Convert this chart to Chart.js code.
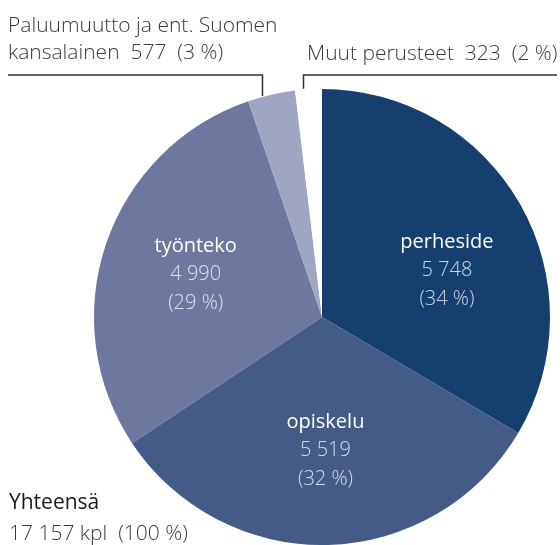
<!DOCTYPE html>
<html>
<head>
<meta charset="utf-8">
<script src="https://cdn.jsdelivr.net/npm/chart.js@4.4.0/dist/chart.umd.min.js"></script>
<style>
html, body { margin: 0; padding: 0; background: #fff; }
#wrap { position: relative; width: 560px; height: 545px; }
</style>
</head>
<body>
<div id="wrap"><canvas id="pie"></canvas></div>
<script>
// Oleskeluluvat perusteittain
const categories = ['perheside', 'opiskelu', 'työnteko', 'Paluumuutto ja ent. Suomen kansalainen', 'Muut perusteet'];
const values = [5748, 5519, 4990, 577, 323];
const percents = [34, 32, 29, 3, 2];
const totalValue = 17157;
const totalPercent = 100;

const colors = ['#143f6e', '#445a87', '#6e789f', '#a0a5c1', '#ffffff'];
const FONT = '"Open Sans", "DejaVu Sans", sans-serif';

function fmt(n) {
    return String(n).replace(/\B(?=(\d{3})+(?!\d))/g, ' ');
}

// tekstit ja viivat piirretään itse
const labelPlugin = {
    id: 'labels',
    afterDraw(chart, args, opts) {
        const ctx = chart.ctx;
        const meta = chart.getDatasetMeta(0);
        ctx.save();
        ctx.textBaseline = 'middle';

        // sisäiset tekstit (3 isointa siivua)
        for (let i = 0; i < 3; i++) {
            const arc = meta.data[i];
            const p = arc.getProps(['x', 'y', 'startAngle', 'endAngle', 'outerRadius'], true);
            const f = opts.angleFrac[i];
            const mid = p.startAngle + (p.endAngle - p.startAngle) * f;
            const r = p.outerRadius * 0.585;
            const cx = p.x + Math.cos(mid) * r;
            const cy = p.y + Math.sin(mid) * r;
            ctx.textAlign = 'center';
            ctx.fillStyle = '#ffffff';
            ctx.font = '400 20px ' + FONT;
            ctx.fillText(categories[i], cx, cy - 28);
            ctx.fillStyle = 'rgba(255,255,255,0.78)';
            ctx.font = '300 20px ' + FONT;
            ctx.fillText(fmt(values[i]), cx, cy);
            ctx.fillText('(' + percents[i] + ' %)', cx, cy + 29);
        }

        // johtoviivat pieniin siivuihin
        const lineY = 75;
        ctx.strokeStyle = '#333';
        ctx.lineWidth = 1.5;
        [3, 4].forEach(i => {
            const arc = meta.data[i];
            const p = arc.getProps(['x', 'y', 'startAngle', 'endAngle', 'outerRadius'], true);
            const a = p.startAngle + (p.endAngle - p.startAngle) * 0.3;
            const ex = Math.round(p.x + Math.cos(a) * p.outerRadius) + 0.5;
            const ey = p.y + Math.sin(a) * (p.outerRadius + 1);
            const endX = i === 3 ? 8 : chart.width - 3;
            ctx.beginPath();
            ctx.moveTo(ex, ey);
            ctx.lineTo(ex, lineY);
            ctx.lineTo(endX, lineY);
            ctx.stroke();
        });

        ctx.textBaseline = 'alphabetic';
        ctx.textAlign = 'left';
        ctx.fillStyle = '#3a3a3a';
        ctx.font = '300 21px ' + FONT;
        ctx.fillText('Paluumuutto ja ent. Suomen', 8, 32);
        ctx.fillText('kansalainen  ' + fmt(values[3]) + '  (' + percents[3] + ' %)', 8, 59);
        ctx.fillText('Muut perusteet  ' + fmt(values[4]) + '  (' + percents[4] + ' %)', 307, 60);

        ctx.fillStyle = '#1a1a1a';
        ctx.font = '400 21px ' + FONT;
        ctx.fillText('Yhteensä', 9, 509);
        ctx.fillStyle = '#3a3a3a';
        ctx.font = '300 21px ' + FONT;
        ctx.fillText(fmt(totalValue) + ' kpl  (' + totalPercent + ' %)', 9, 540);
        ctx.restore();
    }
};

new Chart(document.getElementById('pie'), {
    type: 'pie',
    data: {
        labels: categories,
        datasets: [{
            data: values,
            backgroundColor: colors,
            borderWidth: 0,
            hoverOffset: 0
        }]
    },
    options: {
        responsive: true,
        maintainAspectRatio: false,
        animation: false,
        layout: { padding: { left: 94, right: 10, top: 89, bottom: 0 } },
        plugins: {
            legend: { display: false },
            tooltip: { enabled: false },
            labels: { angleFrac: [0.576, 0.5, 0.5] }
        },
        events: []
    },
    plugins: [labelPlugin]
});
</script>
</body>
</html>
